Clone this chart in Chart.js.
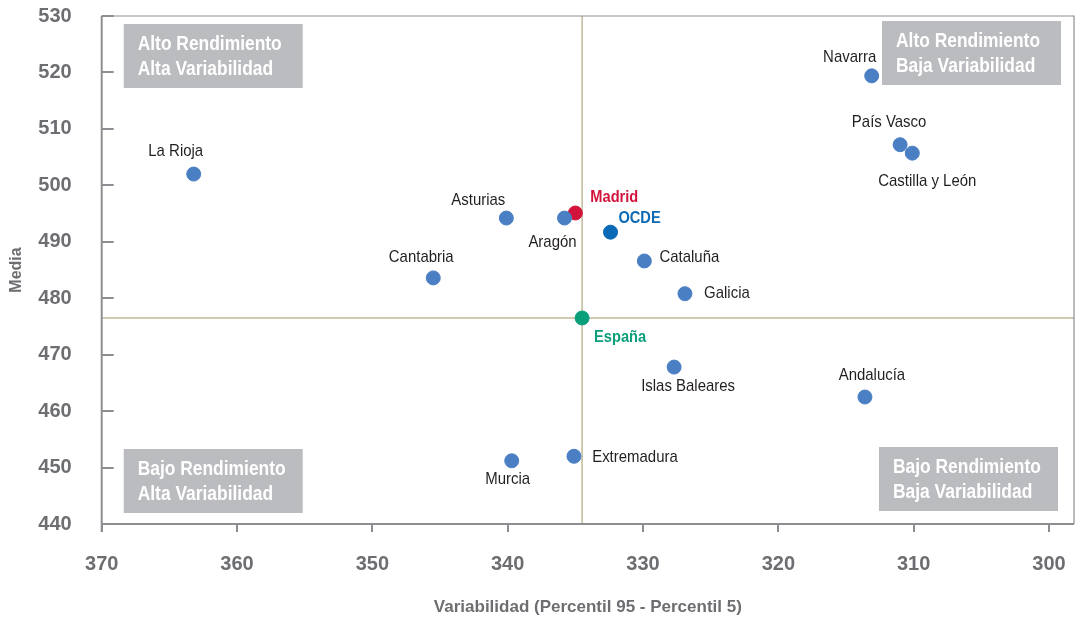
<!DOCTYPE html>
<html>
<head>
<meta charset="utf-8">
<script src="https://cdn.jsdelivr.net/npm/chart.js@4"></script>
<style>
  html, body { margin: 0; padding: 0; background: #fff; }
  #wrap { width: 1075px; height: 620px; }
</style>
</head>
<body>
<div id="wrap"><canvas id="chart" width="1075" height="620"></canvas></div>
<script>
// comunidades autonomas: variabilidad (P95 - P5) y media
const regions = ["La Rioja", "Navarra", "País Vasco", "Castilla y León", "Asturias", "Aragón",
  "Cantabria", "Cataluña", "Galicia", "Islas Baleares", "Andalucía", "Murcia", "Extremadura"]
const regionX = [363.2, 313.1, 311.0, 310.1, 340.1, 335.8, 345.5, 329.9, 326.9, 327.7, 313.6, 339.7, 335.1]
const regionY = [502.0, 519.4, 507.2, 505.7, 494.2, 494.2, 483.6, 486.6, 480.8, 467.8, 462.5, 451.2, 452.0]

const madrid = { x: 335.0, y: 495.1 }
const ocde = { x: 332.4, y: 491.7 }
const espana = { x: 334.5, y: 476.5 }

const xTicks = [370, 360, 350, 340, 330, 320, 310, 300]
const yTicks = [440, 450, 460, 470, 480, 490, 500, 510, 520, 530]

// label offsets (px) from each point
const labelOffsets = [[-18, -23], [-22, -19], [-11, -22], [15, 28], [-28, -18], [-12, 24],
  [-12, -21], [45, -4], [42, 0], [14, 19], [7, -22], [-4, 19], [61, 1]]

const FONT = "'Liberation Sans', Arial, sans-serif"
const GREY = "#6d6e71"
const AXIS = "#8d8e91"

const quadrants = [
  { lines: ["Alto Rendimiento", "Alta Variabilidad"], left: 22, top: 8 },
  { lines: ["Alto Rendimiento", "Baja Variabilidad"], right: 13, top: 5 },
  { lines: ["Bajo Rendimiento", "Alta Variabilidad"], left: 22, bottom: 11 },
  { lines: ["Bajo Rendimiento", "Baja Variabilidad"], right: 16, bottom: 13 }
]

// narrow text: squeeze horizontally to look like a condensed face
function narrowText(ctx, text, x, y, align, sx) {
  ctx.save()
  ctx.translate(x, y)
  ctx.scale(sx, 1)
  ctx.textAlign = align
  ctx.fillText(text, 0, 0)
  ctx.restore()
}

const decor = {
  id: "decor",
  beforeDatasetsDraw(chart) {
    const ctx = chart.ctx, a = chart.chartArea
    const xs = chart.scales.x, ys = chart.scales.y
    ctx.save()
    // quadrant boxes
    quadrants.forEach(q => {
      const w = 179, h = 64
      const x = q.left !== undefined ? a.left + q.left : a.right - q.right - w
      const y = q.top !== undefined ? a.top + q.top : a.bottom - q.bottom - h
      ctx.fillStyle = "#bbbcbf"
      ctx.fillRect(x, y, w, h)
      ctx.fillStyle = "#fff"
      ctx.font = "bold 20px " + FONT
      ctx.textBaseline = "middle"
      narrowText(ctx, q.lines[0], x + 14, y + 20, "left", 0.87)
      narrowText(ctx, q.lines[1], x + 14, y + 45, "left", 0.87)
    })
    // reference lines through España
    ctx.strokeStyle = "#c2b99b"
    ctx.lineWidth = 1.5
    const ex = xs.getPixelForValue(espana.x), ey = ys.getPixelForValue(espana.y)
    ctx.beginPath()
    ctx.moveTo(a.left, ey); ctx.lineTo(a.right, ey)
    ctx.moveTo(ex, a.top); ctx.lineTo(ex, a.bottom)
    ctx.stroke()
    // frame
    ctx.strokeStyle = AXIS
    ctx.lineWidth = 1.2
    ctx.beginPath()
    ctx.moveTo(a.left, a.top); ctx.lineTo(a.right, a.top); ctx.lineTo(a.right, a.bottom)
    ctx.stroke()
    ctx.lineWidth = 2
    ctx.beginPath()
    ctx.moveTo(a.left, a.top); ctx.lineTo(a.left, a.bottom + 8)
    ctx.moveTo(a.left - 1, a.bottom); ctx.lineTo(a.right, a.bottom)
    ctx.stroke()
    // ticks: y inward, x downward
    ctx.beginPath()
    yTicks.forEach(v => {
      const py = Math.round(ys.getPixelForValue(v))
      ctx.moveTo(a.left, py); ctx.lineTo(a.left + 12, py)
    })
    xTicks.forEach(v => {
      const px = Math.round(xs.getPixelForValue(v))
      ctx.moveTo(px, a.bottom); ctx.lineTo(px, a.bottom + 8)
    })
    ctx.stroke()
    ctx.restore()
  },
  afterDatasetsDraw(chart) {
    const ctx = chart.ctx
    const xs = chart.scales.x, ys = chart.scales.y
    ctx.save()
    ctx.textBaseline = "middle"
    ctx.font = "17px " + FONT
    ctx.fillStyle = "#231f20"
    regions.forEach((r, i) => {
      const px = xs.getPixelForValue(regionX[i]), py = ys.getPixelForValue(regionY[i])
      narrowText(ctx, r, px + labelOffsets[i][0], py + labelOffsets[i][1], "center", 0.88)
    })
    ctx.font = "bold 17px " + FONT
    ctx.fillStyle = "#d2143c"
    narrowText(ctx, "Madrid", xs.getPixelForValue(madrid.x) + 39, ys.getPixelForValue(madrid.y) - 16, "center", 0.86)
    ctx.fillStyle = "#0b6ab5"
    narrowText(ctx, "OCDE", xs.getPixelForValue(ocde.x) + 29, ys.getPixelForValue(ocde.y) - 14, "center", 0.86)
    ctx.fillStyle = "#0a9f7b"
    narrowText(ctx, "España", xs.getPixelForValue(espana.x) + 38, ys.getPixelForValue(espana.y) + 19, "center", 0.86)
    ctx.restore()
  }
}

new Chart(document.getElementById("chart"), {
  type: "scatter",
  data: {
    datasets: [
      {
        label: "Comunidades",
        data: regionX.map((x, i) => ({ x: x, y: regionY[i] })),
        backgroundColor: "#4a7fc3",
        borderColor: "#4a7fc3",
        pointRadius: 7,
        pointHoverRadius: 7
      },
      {
        label: "OCDE",
        data: [ocde],
        backgroundColor: "#0b6ab5",
        borderColor: "#0b6ab5",
        pointRadius: 7
      },
      {
        label: "España",
        data: [espana],
        backgroundColor: "#0a9f7b",
        borderColor: "#0a9f7b",
        pointRadius: 7
      },
      {
        label: "Madrid",
        data: [madrid],
        backgroundColor: "#d2143c",
        borderColor: "#d2143c",
        pointRadius: 7
      }
    ]
  },
  options: {
    responsive: false,
    animation: false,
    layout: { autoPadding: false, padding: { top: 16, right: 1, left: 0, bottom: 0 } },
    plugins: {
      legend: { display: false },
      tooltip: { enabled: false }
    },
    scales: {
      x: {
        type: "linear",
        reverse: true,
        min: 298.15,
        max: 370,
        afterBuildTicks(scale) { scale.ticks = xTicks.map(v => ({ value: v })) },
        afterFit(scale) {
          scale.height = 96
          scale.paddingLeft = 0
          scale.paddingRight = 0
        },
        grid: { display: false },
        border: { display: false },
        ticks: {
          color: GREY,
          padding: 20,
          font: { family: FONT, size: 20, weight: "bold" }
        },
        title: {
          display: true,
          text: "Variabilidad (Percentil 95 - Percentil 5)",
          color: GREY,
          padding: { top: 0, bottom: 2 },
          font: { family: FONT, size: 17, weight: "bold" }
        }
      },
      y: {
        type: "linear",
        min: 440,
        max: 530,
        afterBuildTicks(scale) { scale.ticks = yTicks.map(v => ({ value: v })) },
        afterFit(scale) {
          scale.width = 101.7
          scale.paddingTop = 0
          scale.paddingBottom = 0
        },
        grid: { display: false },
        border: { display: false },
        ticks: {
          color: GREY,
          padding: 22,
          font: { family: FONT, size: 20, weight: "bold" }
        },
        title: {
          display: true,
          text: "Media",
          color: GREY,
          padding: { top: 7, bottom: 0 },
          font: { family: FONT, size: 16, weight: "bold" }
        }
      }
    }
  },
  plugins: [decor]
})
</script>
</body>
</html>
